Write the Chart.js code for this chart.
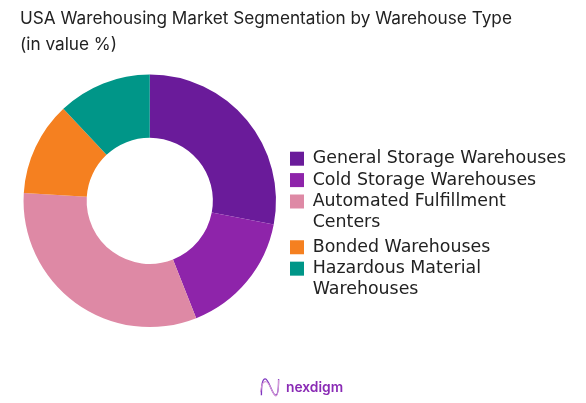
<!DOCTYPE html>
<html>
<head>
<meta charset="utf-8">
<style>
html,body{margin:0;padding:0;background:#fff;width:586px;height:403px;overflow:hidden}
#wrap{position:relative;width:586px;height:403px}
canvas{display:block}
#logo{position:absolute;left:259px;top:377px;width:22px;height:21px}
#brand{position:absolute;left:286px;top:376px;font:600 13.8px Inter,sans-serif;color:#8a2bb5;line-height:22px}
</style>
<script src="https://cdn.jsdelivr.net/npm/chart.js@4"></script>
</head>
<body>
<div id="wrap">
<canvas id="c" width="586" height="403"></canvas>
<svg id="logo" viewBox="0 0 22 22" fill="none"><path d="M2 19C2 9 3 2 6 2c4 0 7 17 11 17 2 0 3-5 3-17" stroke="#7d35c0" stroke-width="1.4"/><path d="M1 16C2 8 4 4 7 5c4 1 6 12 10 15 2 0 3-7 3-17" stroke="#d79ad6" stroke-width="1.1"/></svg>
<div id="brand">nexdigm</div>
</div>
<script>
const titleLines = ["USA Warehousing Market Segmentation by Warehouse Type", "(in value %)"];
const categories = ["General Storage Warehouses", "Cold Storage Warehouses", ["Automated Fulfillment", "Centers"], "Bonded Warehouses", ["Hazardous Material", "Warehouses"]];
const shares = [28, 16, 32, 12, 12];
const colors = ["#6A1B9A", "#8E24AA", "#DE89A5", "#F58020", "#009688"];

const moveLegend = {
  id: "moveLegend",
  afterLayout(chart) {
    const l = chart.legend;
    const h = l.bottom - l.top;
    l.left = 286; l.right = 586;
    l.top = 146; l.bottom = 146 + h;
  }
};

new Chart(document.getElementById("c"), {
  type: "doughnut",
  data: { labels: categories, datasets: [{ data: shares, backgroundColor: colors, borderWidth: 0 }] },
  plugins: [moveLegend],
  options: {
    responsive: false,
    animation: false,
    devicePixelRatio: 1,
    cutout: "50%",
    layout: { padding: { left: 20, right: 47, top: 6, bottom: 76 } },
    plugins: {
      tooltip: { enabled: false },
      title: {
        display: true, text: titleLines, align: "start", color: "#222",
        font: { family: "Inter", size: 17.2, weight: "400", lineHeight: 1.5 },
        padding: { top: 0, bottom: 17 }
      },
      legend: {
        position: "right",
        align: "start",
        labels: {
          boxWidth: 14, boxHeight: 14, padding: 4, color: "#222",
          font: { family: "DejaVu Sans", size: 17.4, lineHeight: 1.2 }
        }
      }
    }
  }
});
</script>
</body>
</html>
